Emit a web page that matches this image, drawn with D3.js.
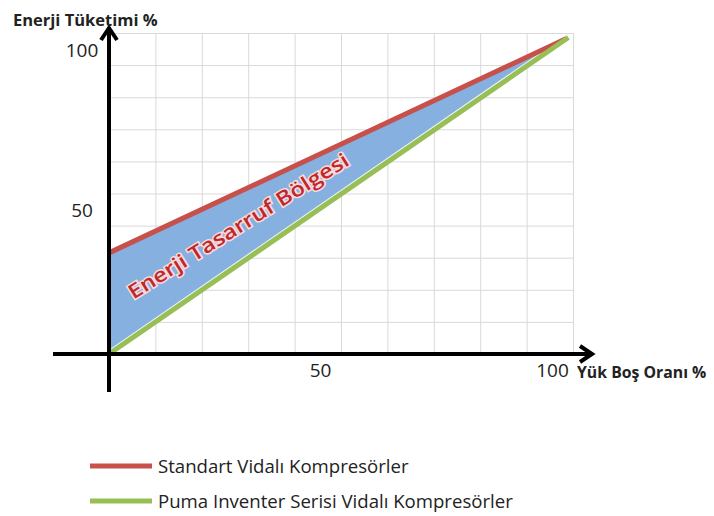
<!DOCTYPE html>
<meta charset="utf-8">
<script src="https://d3js.org/d3.v7.min.js"></script>
<style>
  body { margin: 0; background: #fff; }
  svg text { font-family: "Open Sans", sans-serif; fill: #222; }
</style>
<div id="chart"></div>
<script>
// data
var xTicks = [50, 100];
var yTicks = [50, 100];
var standartX = [0, 98.5];
var standartY = [31.5, 98.2];
var pumaX = [0, 99];
var pumaY = [0, 98.6];
var seriesNames = ["Standart Vidalı Kompresörler", "Puma Inventer Serisi Vidalı Kompresörler"];
var seriesColors = ["#c8504b", "#98bf55"];
var bandLabel = "Enerji Tasarruf Bölgesi";

var width = 714, height = 516;

var svg = d3.select("#chart").append("svg")
    .attr("width", width)
    .attr("height", height);

var x = d3.scaleLinear().domain([0, 100]).range([109, 573]);
var y = d3.scaleLinear().domain([0, 100]).range([354, 33]);

// grid
var grid = svg.append("g").attr("stroke", "#d9d9d9").attr("stroke-width", 1);
grid.selectAll(".v").data(x.ticks(10)).enter().append("line")
    .attr("x1", function(d) { return x(d) + 0.5; })
    .attr("x2", function(d) { return x(d) + 0.5; })
    .attr("y1", y(100)).attr("y2", y(0));
grid.selectAll(".h").data(y.ticks(10)).enter().append("line")
    .attr("x1", x(0)).attr("x2", x(100))
    .attr("y1", function(d) { return y(d) + 0.5; })
    .attr("y2", function(d) { return y(d) + 0.5; });

var red = standartX.map(function(d, i) { return [d, standartY[i]]; });
var green = pumaX.map(function(d, i) { return [d, pumaY[i]]; });

var line = d3.line()
    .x(function(d) { return x(d[0]); })
    .y(function(d) { return y(d[1]); });

// saving band
svg.append("path")
    .attr("d", line(red.concat(green.slice().reverse())) + "Z")
    .attr("fill", "#85b0e0");

// white edge above the green line
svg.append("path")
    .attr("d", line(green))
    .attr("transform", "translate(0,-3.5)")
    .attr("fill", "none")
    .attr("stroke", "#eef4ea")
    .attr("stroke-width", 1.5);

svg.append("path")
    .attr("d", line(red))
    .attr("fill", "none")
    .attr("stroke", seriesColors[0])
    .attr("stroke-width", 5);

svg.append("path")
    .attr("d", line(green))
    .attr("fill", "none")
    .attr("stroke", seriesColors[1])
    .attr("stroke-width", 5);

// band label
svg.append("text")
    .attr("transform", "translate(242,232) rotate(-32)")
    .attr("text-anchor", "middle")
    .attr("textLength", 256)
    .attr("lengthAdjust", "spacingAndGlyphs")
    .style("font-size", "20px")
    .style("font-weight", "600")
    .style("fill", "#c0272d")
    .style("stroke", "#f8dada")
    .style("stroke-width", 3)
    .style("paint-order", "stroke")
    .text(bandLabel);

// axes lines with open arrow heads
var ax = svg.append("g").attr("stroke", "#000").attr("stroke-width", 4).attr("fill", "none");
ax.append("line").attr("x1", 53).attr("x2", 592).attr("y1", y(0)).attr("y2", y(0));
ax.append("path").attr("d", "M580," + (y(0) - 8) + "L592," + y(0) + "L580," + (y(0) + 8));
ax.append("line").attr("x1", x(0)).attr("x2", x(0)).attr("y1", 28).attr("y2", 392);
ax.append("path").attr("d", "M" + (x(0) - 8) + ",40L" + x(0) + ",28L" + (x(0) + 8) + ",40");

// tick labels
var xAxis = svg.append("g")
    .attr("transform", "translate(-21," + y(0) + ")")
    .call(d3.axisBottom(x).tickValues(xTicks).tickSize(0).tickPadding(10).tickFormat(d3.format("d")));
xAxis.select(".domain").remove();
xAxis.selectAll("text").style("font-size", "19px").style("font-family", "'Open Sans', sans-serif").attr("fill", "#222");

var yAxis = svg.append("g")
    .call(d3.axisLeft(y).tickValues(yTicks).tickSize(0).tickPadding(0).tickFormat(d3.format("d")));
yAxis.select(".domain").remove();
yAxis.selectAll("text").attr("text-anchor", "middle").attr("x", 82 - x(0))
    .style("font-size", "19px").style("font-family", "'Open Sans', sans-serif").attr("fill", "#222");
yAxis.attr("transform", "translate(" + x(0) + ",17)");

// axis titles
svg.append("text")
    .attr("x", 13).attr("y", 26)
    .style("font-size", "16.5px").style("font-weight", "bold")
    .text("Enerji Tüketimi %");
svg.append("text")
    .attr("x", 577).attr("y", 378)
    .style("font-size", "15.8px").style("font-weight", "bold")
    .text("Yük Boş Oranı %");

// legend
var legend = svg.append("g");
var legendY = [466, 501];
seriesNames.forEach(function(name, i) {
  legend.append("line")
      .attr("x1", 90).attr("x2", 152)
      .attr("y1", legendY[i]).attr("y2", legendY[i])
      .attr("stroke", seriesColors[i]).attr("stroke-width", 5);
  legend.append("text")
      .attr("x", 158).attr("y", legendY[i])
      .attr("dy", "0.35em")
      .style("font-size", "18.6px")
      .text(name);
});
</script>
